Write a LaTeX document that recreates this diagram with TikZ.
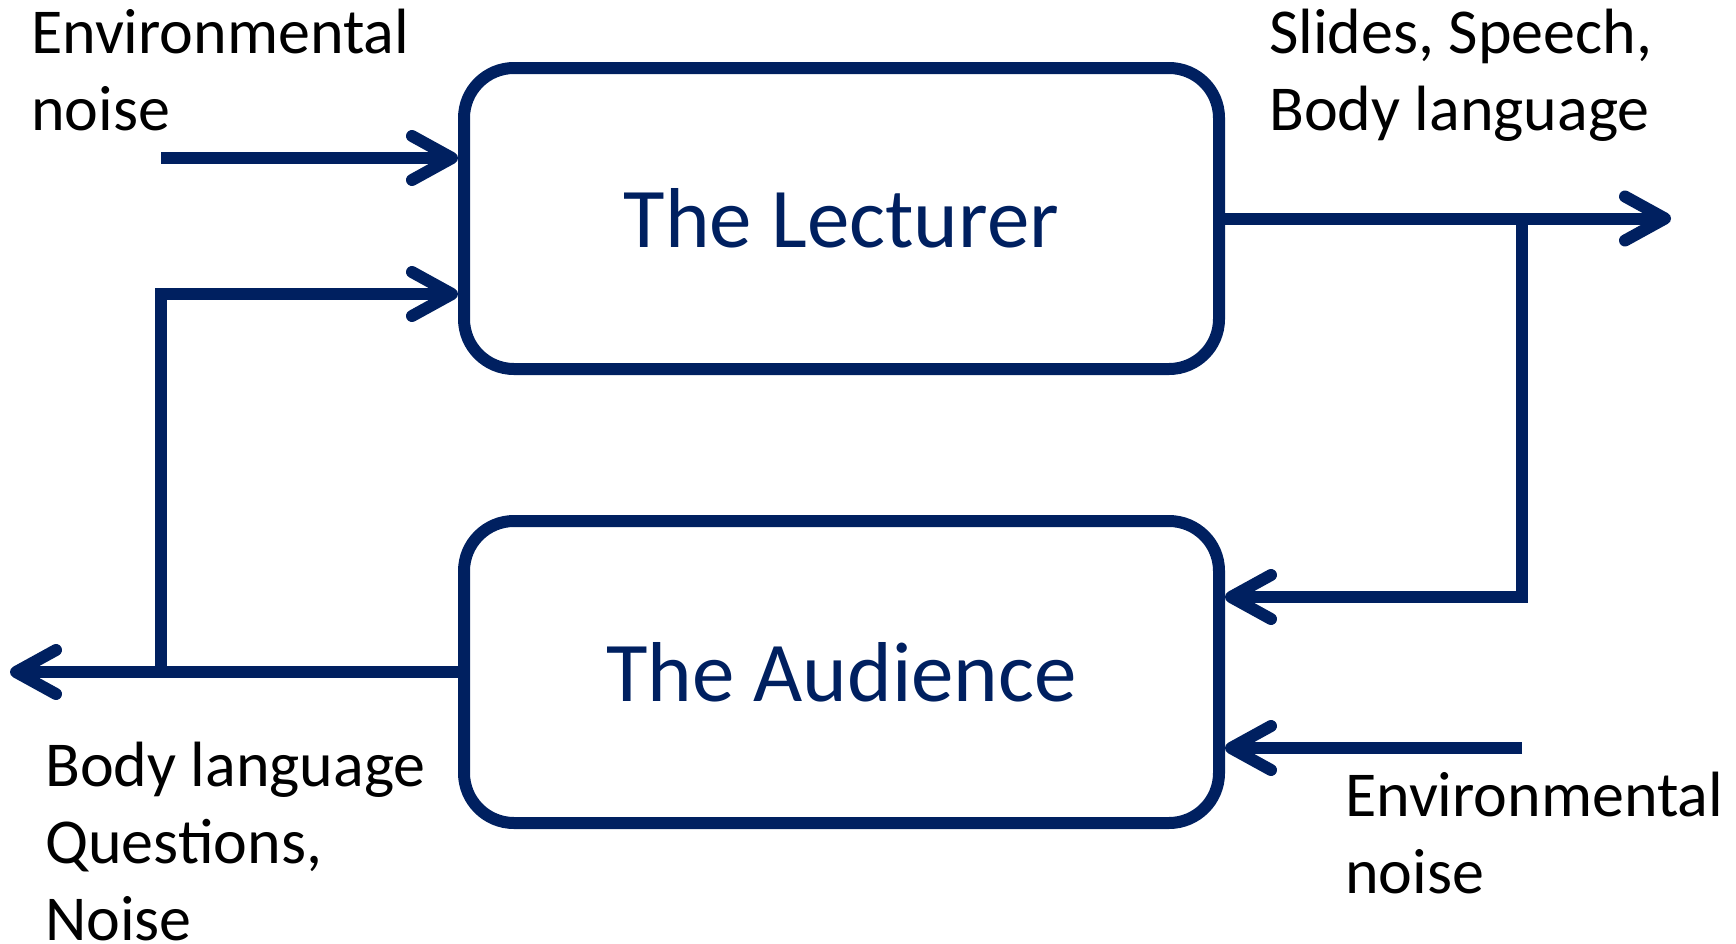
\documentclass[tikz,border=0pt]{standalone}
\usepackage{fontspec}
\setmainfont{Carlito}
\usetikzlibrary{arrows.meta}
\definecolor{navy}{RGB}{0,32,96}
\begin{document}
\begin{tikzpicture}[x=1pt,y=-1pt,
  block/.style={draw=navy, line width=12pt, rounded corners=50pt,
    minimum width=755pt, text=navy,
    font=\fontsize{85}{100}\selectfont},
  flow/.style={draw=navy, line width=12pt,
    -{Straight Barb[length=40pt,width=44pt,round]}},
  lbl/.style={anchor=base west, inner sep=0pt, align=left,
    font=\fontsize{64}{77}\selectfont}]
\useasboundingbox (0,0) rectangle (1736,943);

% the two parties
\node[block, minimum height=301pt] (lect) at (841.5,218.5) {The Lecturer};
\node[block, minimum height=302pt] (aud) at (841.5,672) {The Audience};

% free ends and junctions
\coordinate (envA) at (161,158);
\coordinate (fbtop) at (161,294);
\coordinate (fbj) at (161,672);
\coordinate (fbout) at (10,672);
\coordinate (outtip) at (1671,218.5);
\coordinate (fwj) at (1522,218.5);
\coordinate (fwlow) at (1522,597);
\coordinate (envB) at (1522,748);

% lecturer inputs
\draw[flow] (envA) -- (envA -| lect.west);
\draw[flow] (fbj) -- (fbtop) -- (fbtop -| lect.west);
% lecturer output and branch to the audience
\draw[flow] (lect.east) -- (outtip);
\draw[flow] (fwj) -- (fwlow) -- (fwlow -| aud.east);
% audience inputs and output
\draw[flow] (envB) -- (envB -| aud.east);
\draw[flow] (aud.west) -- (fbout);

% labels (anchored at the baseline of their last line)
\node[lbl] (l1) at (31,130) {Environmental\\noise};
\node[lbl] (l2) at (1269,130) {Slides, Speech,\\Body language};
\node[lbl] (l3) at (45,940) {Body language\\Questions,\\Noise};
\node[lbl] (l4) at (1345,893) {Environmental\\noise};
\end{tikzpicture}
\end{document}
